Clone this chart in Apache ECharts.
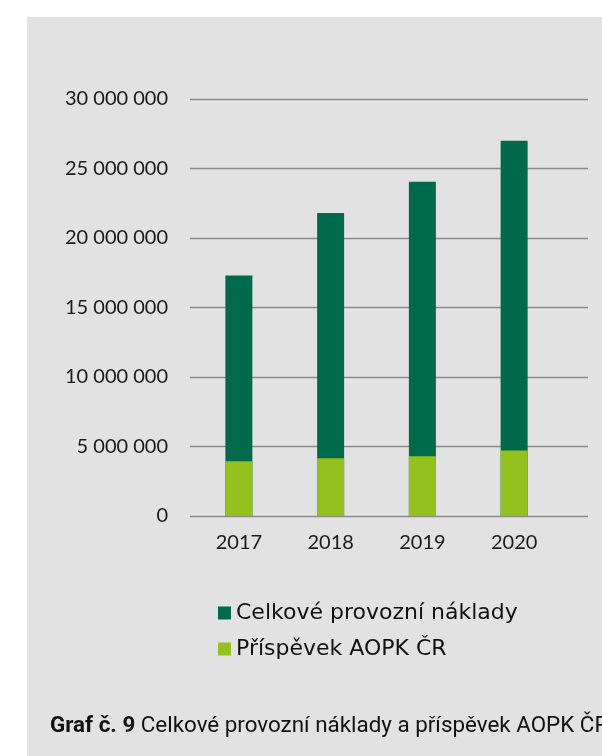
<!DOCTYPE html>
<html>
<head>
<meta charset="utf-8">
<style>
  html, body { margin: 0; padding: 0; background: #ffffff; }
  #chart { width: 602px; height: 756px; }
</style>
<script src="https://cdn.jsdelivr.net/npm/echarts@6/dist/echarts.min.js"></script>
</head>
<body>
<div id="chart"></div>
<script>
// Operating costs and AOPK contribution by year (CZK)
const years = ['2017', '2018', '2019', '2020'];
const totalCosts = [17300000, 21800000, 24050000, 27000000];
const aopkContribution = [3930000, 4150000, 4290000, 4720000];
const yTicks = [0, 5000000, 10000000, 15000000, 20000000, 25000000, 30000000];

const seriesNames = ['Celkové provozní náklady', 'Příspěvek AOPK ČR'];
const caption = '{b|Graf č. 9} Celkové provozní náklady a příspěvek AOPK ČR';

const DARK = '#006a4a';
const LIGHT = '#95c11f';
const GRID_LINE = '#8a8a8a';

const fmt = v => String(v).replace(/\B(?=(\d{3})+(?!\d))/g, ' ');

const yMin = yTicks[0];
const yMax = yTicks[yTicks.length - 1];
const yStep = yTicks[1] - yTicks[0];

const chart = echarts.init(document.getElementById('chart'), null, { renderer: 'canvas' });

chart.setOption({
  backgroundColor: '#e2e2e2',
  animation: false,
  grid: [
    // value grid carrying the tick labels and horizontal lines
    { left: 190, right: 14, top: 99, height: 417 },
    // bar grid
    { left: 193, width: 367, top: 99, height: 417 }
  ],
  xAxis: [
    { gridIndex: 0, type: 'value', show: false, min: 0, max: 1 },
    {
      gridIndex: 1, type: 'category', data: years,
      axisLine: { show: false }, axisTick: { show: false },
      axisLabel: { color: '#1a1a1a', fontFamily: 'Lato', fontSize: 20, margin: 17 }
    }
  ],
  yAxis: [
    {
      gridIndex: 0, type: 'value', min: yMin, max: yMax, interval: yStep,
      axisLine: { show: false }, axisTick: { show: false },
      axisLabel: { color: '#1a1a1a', fontFamily: 'Lato', fontSize: 20, margin: 22, formatter: fmt },
      splitLine: { lineStyle: { color: GRID_LINE, width: 1.3 } }
    },
    {
      gridIndex: 1, type: 'value', min: yMin, max: yMax, interval: yStep, show: false,
      splitLine: { show: false }
    }
  ],
  legend: {
    orient: 'vertical',
    left: 213,
    top: 597,
    itemWidth: 13,
    itemHeight: 13,
    itemGap: 14,
    icon: 'rect',
    data: seriesNames,
    textStyle: { color: '#111', fontFamily: 'DejaVu Sans', fontSize: 22 }
  },
  series: [
    {
      name: seriesNames[0], type: 'bar', xAxisIndex: 1, yAxisIndex: 1,
      data: totalCosts, barWidth: 27, barGap: '-100%',
      itemStyle: { color: DARK }
    },
    {
      name: seriesNames[1], type: 'bar', xAxisIndex: 1, yAxisIndex: 1,
      data: aopkContribution, barWidth: 27,
      itemStyle: { color: LIGHT }
    }
  ],
  graphic: [
    { type: 'rect', shape: { x: 0, y: 0, width: 602, height: 17 }, style: { fill: '#ffffff' }, silent: true },
    { type: 'rect', shape: { x: 0, y: 0, width: 27, height: 756 }, style: { fill: '#ffffff' }, silent: true },
    {
      type: 'text', x: 50, y: 726,
      style: {
        text: caption,
        fill: '#111',
        fontFamily: 'Roboto',
        fontSize: 22.4,
        verticalAlign: 'middle',
        rich: { b: { fontWeight: 'bold', fontFamily: 'Roboto', fontSize: 22.4, fill: '#111' } }
      }
    }
  ]
});
</script>
</body>
</html>
